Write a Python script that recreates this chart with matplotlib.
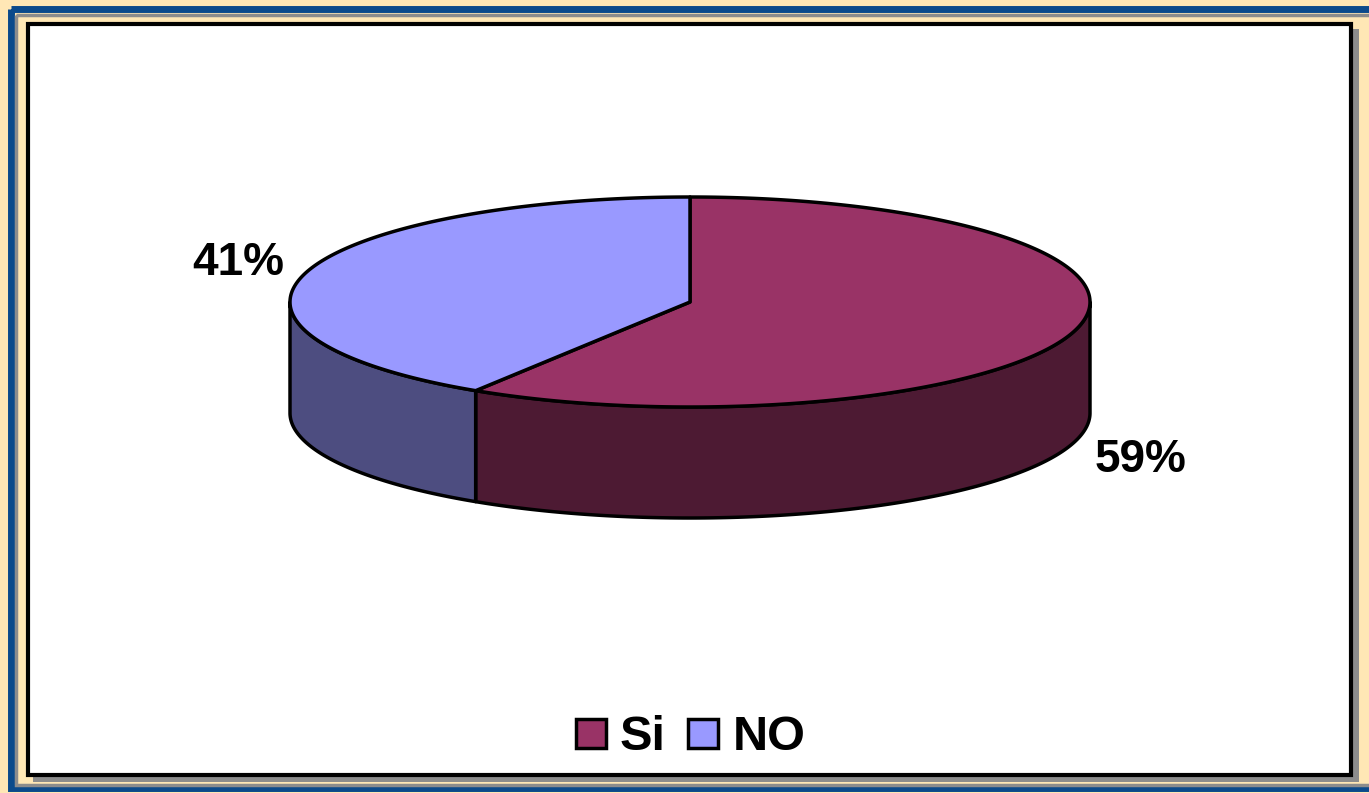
import numpy as np
import matplotlib.pyplot as plt
from matplotlib.patches import Polygon, Rectangle

labels = ['Si', 'NO']
values = [59, 41]
top_colors = ['#993366', '#9999FF']
side_colors = ['#4D1A33', '#4D4D80']

plt.rcParams['font.family'] = ['Liberation Sans', 'DejaVu Sans']

fig = plt.figure(figsize=(13.69, 7.93), dpi=100)
fig.patch.set_facecolor('#FFE7B5')
ax = fig.add_axes([0, 0, 1, 1])
ax.set_xlim(0, 1369)
ax.set_ylim(793, 0)
ax.axis('off')

# frame: blue line, gray shadow, white panel with black border
ax.add_patch(Rectangle((11, 8.5), 1400, 779.5, fill=False, ec='#0B4A8B', lw=5))
ax.add_patch(Rectangle((15.5, 14.5), 1400, 770, fill=False, ec='#8C8C8C', lw=2.5))
ax.add_patch(Rectangle((33, 29), 1326, 753, fc='#8C8C8C', ec='none'))
ax.add_patch(Rectangle((28, 24), 1323, 751, fc='white', ec='black', lw=3))

# 3d pie geometry
cx, cy, a, b, depth = 690, 302, 400, 105, 111
total = sum(values)

def pt(t, dy=0):
    return cx + a * np.cos(t), cy - b * np.sin(t) + dy

# Si goes clockwise from 12 o'clock, NO fills the rest
start = np.pi / 2
si_span = 2 * np.pi * values[0] / total
angles = [(start - si_span, start),
          (start, start + 2 * np.pi * values[1] / total)]

# side walls (front half only)
for (t0, t1), col in zip(angles, side_colors):
    lo, hi = t0 % (2 * np.pi), t1 % (2 * np.pi)
    if hi <= lo:
        hi += 2 * np.pi
    s0, s1 = max(lo, np.pi), min(hi, 2 * np.pi)
    if s1 <= s0:
        continue
    ts = np.linspace(s0, s1, 200)
    xs, ys = pt(ts)
    xb, yb = pt(ts[::-1], depth)
    poly = np.column_stack([np.concatenate([xs, xb]), np.concatenate([ys, yb])])
    ax.add_patch(Polygon(poly, closed=True, fc=col, ec='black', lw=2.5, joinstyle='round'))

# top faces
for (t0, t1), col in zip(angles, top_colors):
    ts = np.linspace(t0, t1, 300)
    xs, ys = pt(ts)
    poly = np.column_stack([np.concatenate([[cx], xs]), np.concatenate([[cy], ys])])
    ax.add_patch(Polygon(poly, closed=True, fc=col, ec='black', lw=2.5, joinstyle='round'))

# percentage labels
for (t0, t1), v in zip(angles, values):
    m = (t0 + t1) / 2
    x = cx + a * 1.18 * np.cos(m)
    y = cy - b * 1.2 * np.sin(m)
    if np.sin(m) < 0:
        y += depth + 12
        x -= 3
    else:
        y -= 4
        x += 2
    ax.text(x, y, f'{v}%', fontsize=33, fontweight='bold', ha='center', va='center')

# legend
ax.add_patch(Rectangle((576, 719), 30, 29, fc=top_colors[0], ec='black', lw=2.5))
ax.text(620, 737, labels[0], fontsize=35, fontweight='bold', va='center')
ax.add_patch(Rectangle((688, 719), 30, 29, fc=top_colors[1], ec='black', lw=2.5))
ax.text(733, 737, labels[1], fontsize=35, fontweight='bold', va='center')

fig.savefig('out.png', dpi=100, facecolor=fig.get_facecolor())
